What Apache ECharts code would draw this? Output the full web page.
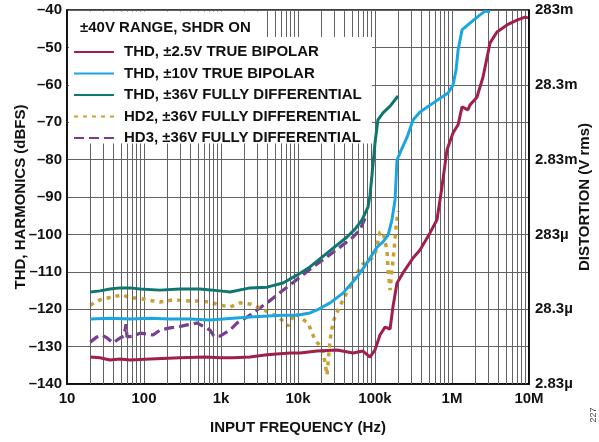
<!DOCTYPE html>
<html><head><meta charset="utf-8">
<script src="https://cdn.jsdelivr.net/npm/echarts@6/dist/echarts.min.js"></script>
<style>html,body{margin:0;padding:0;background:#fff}#c{width:599px;height:442px}</style>
</head><body><div id="c"></div>
<script>
// ---- data (frequency in Hz, level in dBFS) ----
const thd25 = [[20,-132.8],[26.8,-133.0],[36.2,-133.6],[48.8,-133.3],[65.8,-133.6],[120,-133.3],[294,-133.0],[620,-132.8],[970,-133.0],[1430,-133.0],[2380,-132.8],[3960,-132.2],[7870,-131.7],[10600,-131.7],[17700,-131.2],[32100,-130.9],[51800,-131.7],[69800,-131.2],[86100,-132.8],[100000,-130.9],[116000,-126.9],[135000,-124.8],[157000,-125.3],[171000,-119.4],[193000,-113.0],[231000,-110.3],[312000,-106.3],[384000,-104.2],[518000,-99.6],[638000,-96.1],[741000,-87.3],[861000,-77.4],[1030000,-72.9],[1200000,-70.7],[1350000,-65.9],[1610000,-66.7],[1710000,-65.4],[2110000,-63.3],[2530000,-57.9],[3120000,-48.8],[3840000,-45.9],[5180000,-44.0],[6980000,-42.7],[8870000,-41.9],[9710000,-42.1]];
const thd10 = [[20,-122.6],[36.2,-122.4],[65.8,-122.6],[120,-122.4],[218,-122.6],[396,-122.6],[720,-122.9],[1430,-122.4],[2380,-122.1],[6380,-121.6],[9700,-121.6],[14300,-121.0],[17700,-120.2],[26100,-118.3],[38400,-115.7],[58400,-111.4],[78700,-107.6],[106000,-103.4],[127000,-102.0],[148000,-100.2],[166000,-96.1],[182000,-90.8],[193000,-80.1],[211000,-78.2],[261000,-74.0],[312000,-69.4],[384000,-67.3],[566000,-64.9],[887000,-62.2],[1030000,-60.1],[1130000,-56.0],[1200000,-50.7],[1350000,-45.3],[1710000,-43.5],[2310000,-41.3],[2690000,-40.3],[3120000,-40.5]];
const thd36 = [[20,-115.4],[26.8,-115.1],[36.2,-114.6],[48.8,-114.3],[65.8,-114.3],[88.7,-114.6],[161,-114.9],[294,-114.6],[534,-114.6],[970,-115.1],[1310,-115.4],[2380,-114.3],[3960,-114.1],[6380,-113.0],[9700,-110.9],[14300,-108.7],[23800,-105.0],[43300,-100.7],[55000,-98.6],[67800,-96.1],[81100,-92.7],[86100,-89.5],[91400,-84.1],[100000,-75.6],[109000,-69.4],[127000,-67.5],[157000,-65.7],[199000,-63.0]];
const hd2_36 = [[20,-118.9],[26.8,-117.5],[38.4,-116.7],[53.4,-116.2],[65.8,-117.0],[83.6,-117.0],[109,-117.5],[161,-118.1],[238,-117.5],[396,-117.8],[534,-117.8],[720,-118.1],[970,-118.9],[1310,-119.4],[1770,-118.3],[2380,-118.6],[3210,-119.7],[4330,-121.0],[5830,-122.4],[7410,-124.5],[9140,-121.0],[10600,-122.1],[13500,-123.7],[16600,-128.2],[19300,-129.8],[21100,-131.7],[22400,-134.1],[23800,-137.6],[24500,-138.1],[26100,-128.2],[28500,-123.4],[33100,-120.2],[38400,-117.5],[47300,-114.1],[58400,-110.3],[69800,-107.9],[86100,-106.8],[100000,-105.5],[116000,-99.4],[127000,-99.4],[143000,-104.2],[148000,-109.5],[157000,-114.9],[166000,-109.5],[177000,-104.2],[187000,-98.3],[199000,-93.7]];
const hd3_36 = [[20,-128.8],[24.5,-127.4],[28.5,-126.9],[33.1,-127.7],[39.6,-129.0],[48.8,-127.7],[55.0,-127.2],[58.4,-124.0],[60.2,-127.4],[71.9,-127.2],[88.7,-126.4],[109,-126.6],[131,-126.9],[161,-125.6],[218,-125.0],[268,-124.8],[362,-124.2],[488,-123.7],[620,-124.8],[720,-125.6],[811,-127.2],[970,-127.2],[1310,-125.6],[1610,-123.7],[2180,-122.1],[2940,-120.2],[3960,-118.3],[5340,-116.2],[7870,-113.5],[10600,-111.4],[15700,-108.7],[23800,-106.0],[35100,-103.4],[50200,-101.0],[63800,-98.8],[78700,-94.5]];

const seriesNames = ['THD, \u00b12.5V TRUE BIPOLAR','THD, \u00b110V TRUE BIPOLAR','THD, \u00b136V FULLY DIFFERENTIAL','HD2, \u00b136V FULLY DIFFERENTIAL','HD3, \u00b136V FULLY DIFFERENTIAL'];
const xTickValues = [10,100,1000,10000,100000,1000000,10000000];
const xTickLabels = ['10','100','1k','10k','100k','1M','10M'];
const rightTickValues = [-40,-60,-80,-100,-120,-140];
const rightTickLabels = ['283m','28.3m','2.83m','283\u00b5','28.3\u00b5','2.83\u00b5'];
const titleText = '\u00b140V RANGE, SHDR ON';

// ---- chart ----
const FONT = '"Liberation Sans", Arial, Helvetica, sans-serif';
const gridColor = '#626262';
const minorX = [];
for (let d = 10; d < 1e7; d *= 10) for (let m = 2; m <= 9; m++) minorX.push(d * m);

const chart = echarts.init(document.getElementById('c'), null, {renderer: 'canvas'});
const lbl = {fontFamily: FONT, fontWeight: 'bold', fontSize: 15, color: '#111'};
chart.setOption({
  animation: false,
  backgroundColor: '#fff',
  grid: {left: 67, right: 70, top: 10, bottom: 58, containLabel: false, outerBoundsMode: 'none',
         show: true, borderColor: '#000', borderWidth: 1.5, backgroundColor: 'transparent'},
  xAxis: {
    type: 'log', logBase: 10, min: 10, max: 1e7, splitNumber: 6,
    axisLine: {show: true, lineStyle: {color: '#000', width: 1.5}},
    axisTick: {show: false},
    splitLine: {show: true, lineStyle: {color: gridColor, width: 1}},
    axisLabel: Object.assign({margin: 7, formatter: v => { const i = xTickValues.findIndex(t => Math.abs(t - v) / t < 1e-6); return i >= 0 ? xTickLabels[i] : ''; }}, lbl),
    name: 'INPUT FREQUENCY (Hz)', nameLocation: 'middle', nameGap: 36, nameMoveOverlap: false,
    nameTextStyle: lbl
  },
  yAxis: [{
    type: 'value', min: -140, max: -40, interval: 10, position: 'left',
    axisLine: {show: true, lineStyle: {color: '#000', width: 1.5}},
    axisTick: {show: false},
    splitLine: {show: true, lineStyle: {color: gridColor, width: 1}},
    axisLabel: Object.assign({margin: 5, formatter: v => String(v).replace('-', '\u2013')}, lbl),
    name: 'THD, HARMONICS (dBFS)', nameLocation: 'middle', nameGap: 39, nameRotate: 90, nameMoveOverlap: false,
    nameTextStyle: lbl
  }, {
    type: 'value', min: -140, max: -40, interval: 20, position: 'right',
    axisLine: {show: true, lineStyle: {color: '#000', width: 1.5}},
    axisTick: {show: false},
    splitLine: {show: false},
    axisLabel: Object.assign({margin: 6, formatter: v => { const i = rightTickValues.indexOf(v); return i >= 0 ? rightTickLabels[i] : ''; }}, lbl),
    name: 'DISTORTION (V rms)', nameLocation: 'middle', nameGap: 48, nameRotate: 90, nameMoveOverlap: false,
    nameTextStyle: lbl
  }],
  legend: {
    orient: 'vertical', left: 73, top: 44.5, padding: 0, itemWidth: 40, itemHeight: 14, itemGap: 6.5,
    z: 20, selectedMode: false, data: seriesNames,
    itemStyle: {opacity: 0},
    textStyle: Object.assign({padding: [0, 0, 0, 5]}, lbl)
  },
  graphic: [
    {type: 'rect', z: 10, silent: true, shape: {x: 69, y: 11.5, width: 197, height: 132}, style: {fill: '#fff'}},
    {type: 'rect', z: 10, silent: true, shape: {x: 265, y: 37, width: 107, height: 106.5}, style: {fill: '#fff'}},
    {type: 'text', z: 11, x: 80, y: 27.5, style: {text: titleText, font: 'bold 15px ' + FONT, fill: '#111', verticalAlign: 'middle'}},
    {type: 'text', z: 11, x: 594, y: 415, rotation: Math.PI / 2, style: {text: '227', font: '9px ' + FONT, fill: '#444', align: 'center', verticalAlign: 'middle'}}
  ],
  series: [
    {type: 'line', data: [], silent: true, z: 1,
     markLine: {silent: true, symbol: ['none', 'none'], animation: false, label: {show: false},
       lineStyle: {color: gridColor, width: 1, type: 'solid'}, emphasis: {disabled: true},
       data: minorX.map(v => ({xAxis: v}))}},
    {name: seriesNames[4], type: 'line', data: hd3_36, symbol: 'none', z: 3,
     lineStyle: {color: '#7a3b97', width: 3.2, type: [10, 5]}, itemStyle: {color: '#7a3b97'}},
    {name: seriesNames[3], type: 'line', data: hd2_36, symbol: 'none', z: 4,
     lineStyle: {color: '#c9a032', width: 3.5, type: [4, 5]}, itemStyle: {color: '#c9a032'}},
    {name: seriesNames[0], type: 'line', data: thd25, symbol: 'none', z: 5,
     lineStyle: {color: '#a01f4b', width: 3}, itemStyle: {color: '#a01f4b'}},
    {name: seriesNames[1], type: 'line', data: thd10, symbol: 'none', z: 6,
     lineStyle: {color: '#1aa6e0', width: 3}, itemStyle: {color: '#1aa6e0'}},
    {name: seriesNames[2], type: 'line', data: thd36, symbol: 'none', z: 7,
     lineStyle: {color: '#0f776f', width: 3}, itemStyle: {color: '#0f776f'}}
  ]
});
</script>
</body></html>
